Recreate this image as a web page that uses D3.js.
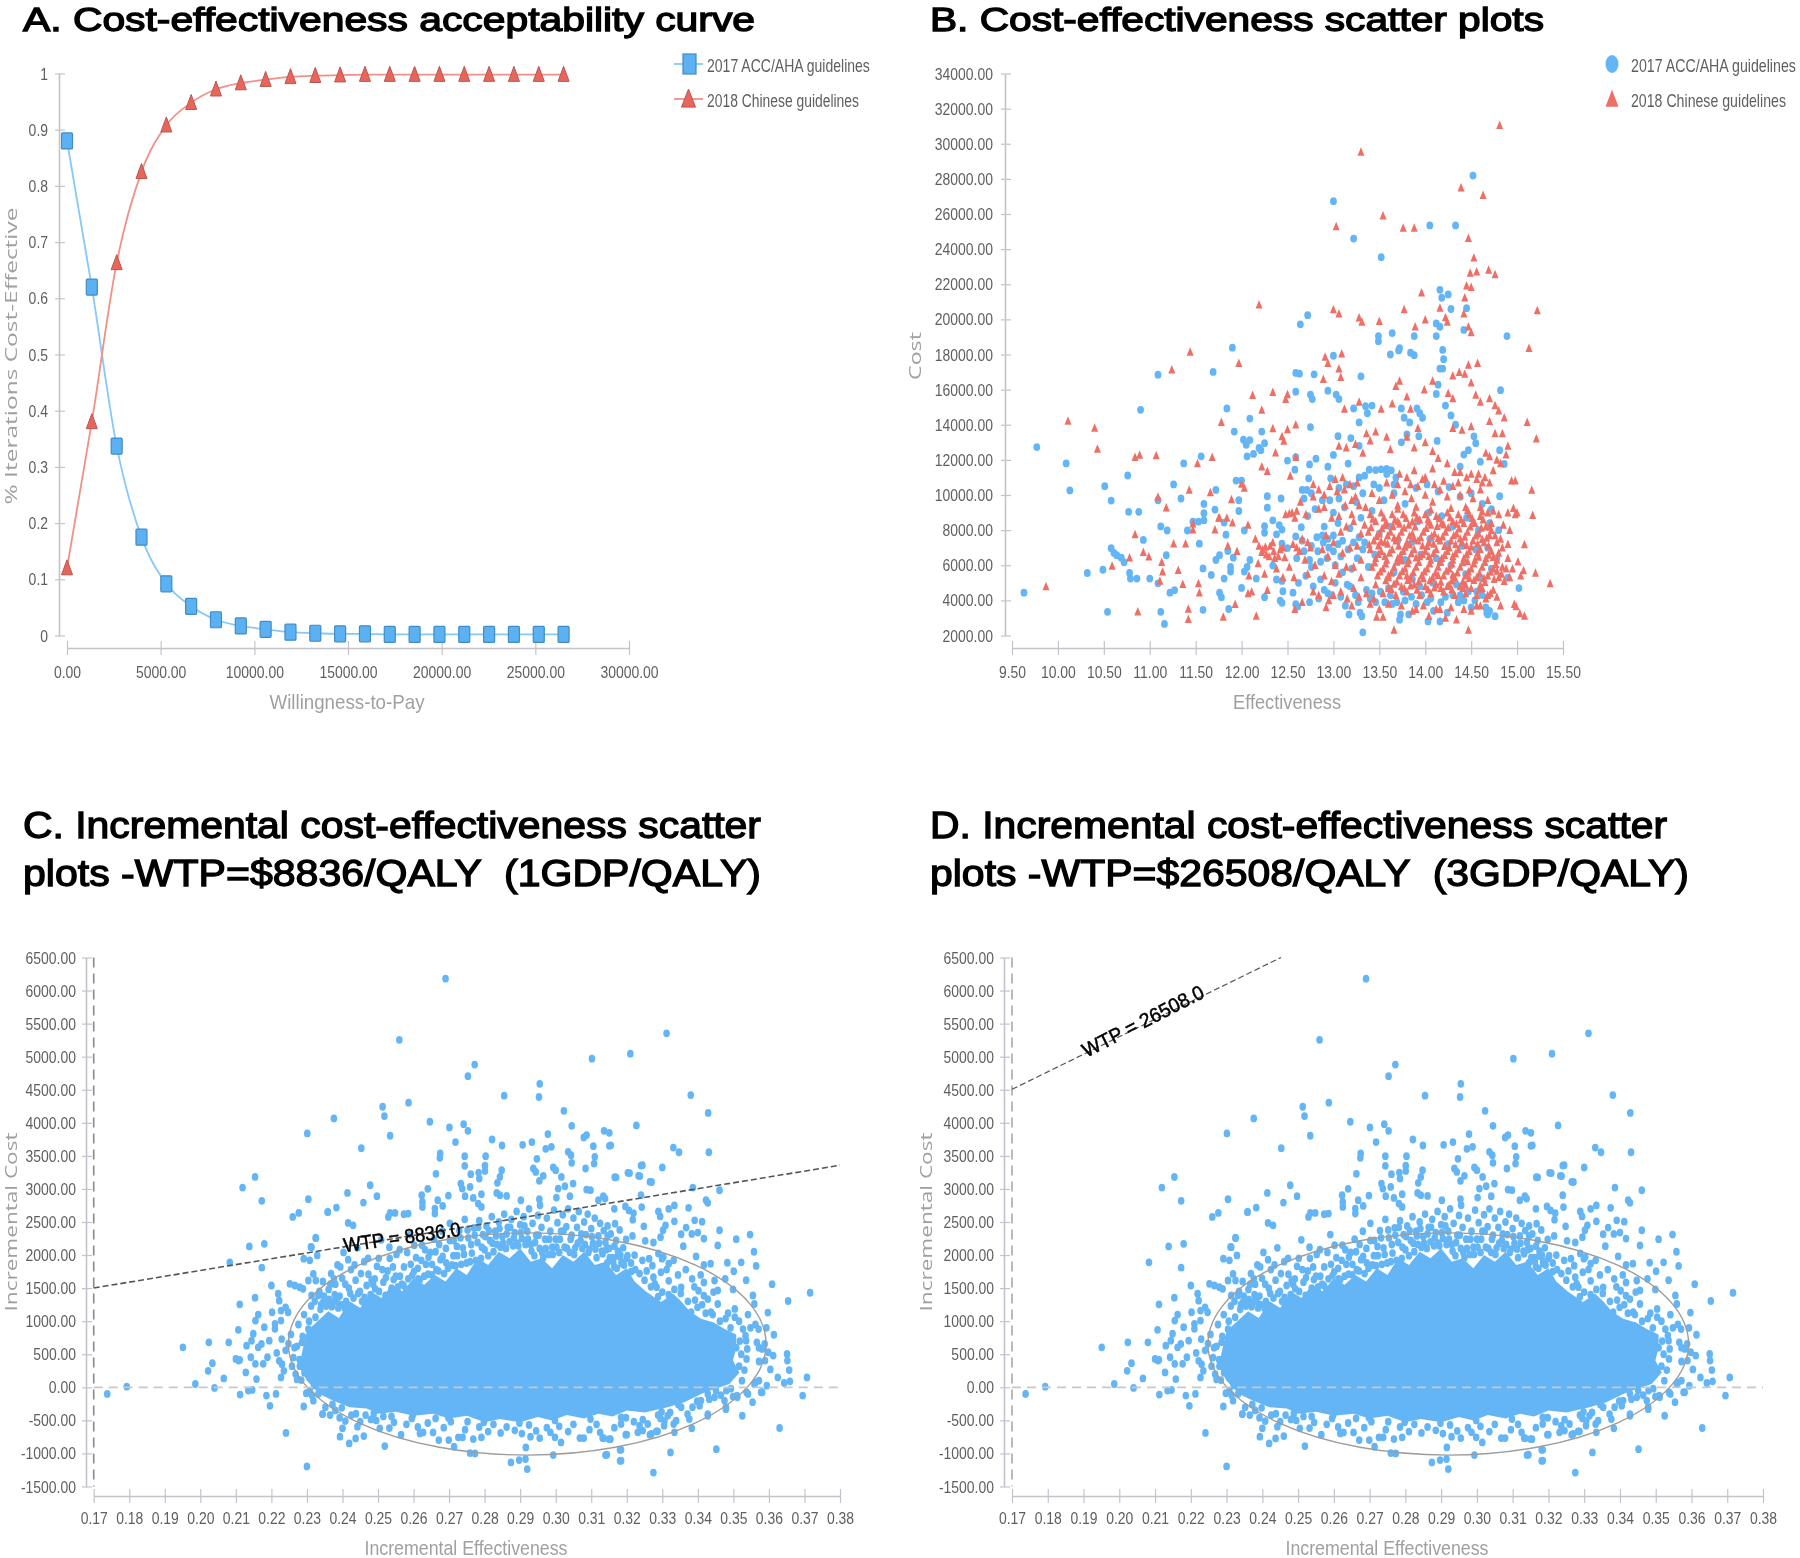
<!DOCTYPE html>
<html><head><meta charset="utf-8">
<script src="https://cdn.jsdelivr.net/npm/d3@7/dist/d3.min.js"></script>
<style>
html,body{margin:0;padding:0;background:#fff}
svg{display:block;filter:blur(.45px)}
text{white-space:pre}
.tick text,.leg{font-family:"Liberation Sans",sans-serif;fill:#5f5f5f}
</style></head><body><div id="c"></div>
<script>
// ---- Panel A
const wtpValues=[0,1325,2651,3976,5302,6627,7952,9278,10603,11929,13254,14579,15905,17230,18556,19881,21206,22532,23857,25183,26508];
const acceptAcc=[.88,.62,.337,.175,.092,.052,.028,.017,.011,.006,.004,.003,.003,.002,.002,.002,.002,.002,.002,.002,.002];
const acceptChinese=[.12,.38,.663,.825,.908,.948,.972,.983,.989,.994,.996,.997,.998,.998,.998,.998,.998,.998,.998,.998,.998];
const ticksA_x=[0,5000,10000,15000,20000,25000,30000];
const ticksA_y=[0,.1,.2,.3,.4,.5,.6,.7,.8,.9,1];
// ---- Panel B (effectiveness, cost pairs)
const ticksB_x=[9.5,10,10.5,11,11.5,12,12.5,13,13.5,14,14.5,15,15.5];
const ticksB_y=[2000,4000,6000,8000,10000,12000,14000,16000,18000,20000,22000,24000,26000,28000,30000,32000,34000];
const accScatter=[9.63,4440,9.77,12730,10.09,11800,10.13,10260,10.32,5560,10.49,5745,10.51,10500,10.58,9680,10.54,3350,10.58,6970,10.61,6700,10.64,6570,10.69,6430,10.72,6170,10.76,11110,10.77,9040,10.88,9040,10.78,5560,10.79,5240,10.86,5240,10.9,14850,10.93,7440,11,5240,11.09,16850,11.09,9700,11.12,8210,11.19,7980,11.18,6570,11.16,2660,11.12,3350,11.09,4970,11.22,4440,11.27,4580,11.26,10600,11.34,9800,11.37,11800,11.41,7980,11.47,8480,11.53,8480,11.59,8560,11.59,9490,11.59,8960,11.56,12200,11.54,7230,11.58,5820,11.58,3460,11.67,5450,11.69,17010,11.72,6300,11.72,10290,11.71,9170,11.76,6570,11.76,4440,11.78,4180,11.81,8430,11.81,5240,11.88,5640,11.84,14930,11.86,3510,11.9,18390,11.92,13610,11.94,10820,11.97,9090,11.97,9700,12,10820,11.83,7740,11.85,6810,11.91,6430,11.88,5900,12.02,13150,12.03,7980,12.09,6300,12.06,5900,12.03,5640,12,4710,12.09,14350,12.05,12860,12.09,13130,12.06,12200,12.13,12340,12.22,13610,12.19,12680,12.25,12950,12.21,12550,12.16,5240,12.25,4180,12.25,8220,12.28,9280,12.28,9930,12.25,7850,12.34,8560,12.41,8290,12.44,8030,12.38,7760,12.44,7230,12.43,9800,12.34,5980,12.38,5190,12.44,5110,12.42,3990,12.45,4520,12.44,3860,12.5,6980,12.59,7640,12.65,8170,12.59,12150,12.5,11960,12.58,11440,12.59,16950,12.59,15880,12.63,16910,12.64,19720,12.72,20240,12.66,10290,12.71,10290,12.73,10950,12.75,13870,12.77,15460,12.79,16870,12.75,15720,12.74,11740,12.81,12070,12.56,4440,12.59,3780,12.61,3640,12.94,15940,13,17930,12.97,10950,13,12280,12.94,11610,13.03,15720,13.06,15460,13.22,14930,13.28,14130,13.35,15060,13.42,15090,13.37,14660,13.05,13350,13.19,13240,13.28,12800,13.16,11790,13.06,10400,13.22,24600,13.52,23540,13,26730,14.52,28190,14.05,25350,14.33,25350,14.16,21680,14.18,21230,14.25,21420,14.28,20590,14.45,20640,14.89,19050,14.42,19400,14.12,19770,14.16,19580,14.12,19050,14.19,18260,14.2,17730,14.16,17200,14.19,17200,14.14,16280,14.12,15750,14.22,15090,13.88,19050,13.84,18100,13.88,17960,13.72,18360,13.71,18230,13.62,18000,13.64,19220,13.49,19050,13.49,18760,13.3,16760,13.74,14930,13.77,14400,13.83,14130,13.91,14930,13.94,14660,13.97,14400,13.8,13450,13.74,13000,13.93,13350,14.13,13080,14.28,14530,14.33,14000,14.53,13340,14.55,12950,14.47,12550,14.82,15970,14.81,12550,14.86,11770,14.81,9930,14.38,11620,14.6,11900,14.42,12300,
13.39,11440,13.46,11420,13.52,11460,13.58,11490,13.63,11400,13.68,11000,13.5,10400,13.32,10100,13.25,9600,13.12,9300,13,9000,12.88,9700,12.8,9200,12.72,8800,12.66,7400,12.9,8200,13.05,8400,13.18,8100,13.3,8700,13.42,9100,13.55,9700,13.66,10100,13.78,9500,13.9,10400,14.02,10600,14.14,10200,14.26,10450,14.38,9900,14.5,10100,14.62,9500,14.7,8400,14.04,9000,13.92,8500,14.18,8800,14.3,8200,14.45,8700,14.58,8000,12.76,7100,12.83,6800,12.89,7300,12.95,7000,13,6800,12.86,6200,12.93,6400,13.02,6000,13.08,6500,12.76,5900,12.7,5400,12.62,5000,12.78,4800,12.86,5200,12.94,4400,13.02,5000,13.1,5600,13.15,4900,13.2,5800,13.26,6400,13.32,6900,13.38,5900,13.45,6600,13.13,3700,13.17,3200,13.27,3900,13.31,3100,13.32,2180,13.29,3300,13.4,4100,13.46,3900,13.51,4500,13.56,3900,13.6,4700,13.64,3800,13.69,3900,13.73,3200,13.72,2900,13.78,4000,13.82,3200,13.85,4200,13.9,3800,13.96,4300,14.03,2800,14.02,3900,14.09,3400,14.16,2800,14.17,3900,14.24,3300,14.3,4300,14.36,3900,14.42,4000,14.47,4500,14.5,3600,14.54,4000,14.7,3400,14.67,3300,14.68,3200,14.76,3100,14.9,5300,15.02,4700,14.62,4300,14.34,4900,14.08,5000,13.86,5200,13.66,5600,13.78,6300,13.95,6600,14.12,6400,14.28,6000,14.44,5500,14.6,5300,14.72,5800,13.5,7800,13.62,8200,13.7,7400,13.85,7300,14.05,7500,14.25,7200,14.4,7100,14.55,6900,14.68,7000,14.78,6400,14.8,8000,14.72,9200,
12.6,6400,12.68,6800,12.74,6300,12.82,7600,12.88,7700,12.94,7500,13.0,7700,13.05,7200,13.1,7400,13.16,6900,13.22,7300,13.28,7600,13.34,7300,12.68,9800,12.76,10100,12.96,9700,13.06,9800,13.14,10600,13.22,10500,13.28,11000,13.34,11100,13.44,10600,13.58,11200,13.66,10600,13.42,4400,13.36,4600,13.24,4300,13.18,4800,13.08,4200,12.98,4300,12.9,4600,12.84,4100,12.74,3900,13.62,4300,13.76,4500,13.94,4800,14.06,4100,14.22,4200,14.38,4300,14.56,4500,14.66,3600];
const chineseScatter=[9.87,4790,10.11,14220,10.4,13820,10.43,12620,10.59,5960,10.84,12150,10.89,12280,10.84,7760,10.87,3350,10.78,6430,10.93,6750,10.99,6490,11.07,12250,11.09,9890,11.13,6170,11.14,5640,11.11,5110,11.18,9280,11.24,17140,11.31,5720,11.26,7230,11.44,18150,11.43,10290,11.36,4920,11.39,7230,11.42,3510,11.42,2930,11.47,8370,11.47,8030,11.52,11800,11.68,12150,11.53,4970,11.54,4440,11.71,8030,11.78,14140,11.66,10150,11.75,8690,11.8,3060,11.84,8690,11.9,8430,11.89,9750,11.93,3780,11.97,17510,12,10630,12.12,15680,12.07,8290,12.07,4390,12.11,4500,12.16,3120,12.19,20830,12.22,14850,12.22,11610,12.28,11350,12.28,4580,12.34,15860,12.34,13790,12.37,12410,12.44,13340,12.46,13080,12.48,15460,12.5,15730,12.5,13740,12.59,14000,12.59,12150,12.53,11080,13,20560,13.06,20330,13.03,25290,13.09,18040,12.91,17860,12.94,17510,13.06,17190,13.08,16710,12.89,16600,13.28,20100,13.31,19850,13.3,29540,13.5,19900,13.54,25900,13.76,25210,13.88,25210,14.81,31060,14.39,27500,14.63,27070,14.47,24630,14.53,23510,14.49,22640,14.56,22720,14.69,22820,14.76,22560,14.45,21920,14.5,21840,14.43,21230,13.96,21520,13.77,20560,14,19980,13.89,19580,14.16,20650,14.22,20110,14.24,19850,14.42,20330,14.47,19580,14.5,19260,15.22,20510,15.13,18360,15.11,14140,15.21,13210,15.16,10290,15.17,8850,15.36,4970,15.2,5560,15.08,3120,15.03,3250,14.97,3780,14.99,3650,14.82,3700,14.94,10820,14.98,10820,15,9000,14.98,8900,14.9,9000,14.96,9250,15.08,7180,15.01,6200,15.07,5700,15.04,5400,14.47,2320,13.66,2320,13.47,3060,13.54,3060,
11.76,8700,11.85,7100,11.95,6800,12.03,10400,12.15,7500,12.19,7100,12.23,6900,12.27,6600,12.31,7100,12.35,6800,12.4,6500,12.45,7000,12.18,6100,12.25,5500,12.08,5400,12.38,5800,12.45,5300,12.52,5900,12.57,5300,12.48,8900,12.55,9000,12.6,9100,12.64,9600,12.7,8900,12.56,7200,12.63,6800,12.69,6300,12.75,7000,12.8,6000,12.72,5500,12.78,4500,12.84,4300,12.66,3900,12.58,3500,12.78,10600,12.84,10300,12.9,10000,12.96,10500,12.9,9300,13.02,10900,13.1,11000,13.18,10600,13.24,9900,12.98,8700,13.06,8800,13.13,9400,13.2,9700,12.92,7700,13,7300,13.08,7900,13.14,8200,13.22,8500,12.88,6900,12.94,6500,13.02,6000,13.1,6700,13.18,7000,12.9,5400,12.98,5100,13.06,5500,13.14,5900,12.95,4000,12.92,3600,13,4300,13.08,4500,13.15,4100,13.22,4700,13.06,12800,13.14,12700,13.24,12900,13.32,12400,13.4,13100,13.12,14900,13.28,15300,13.36,13500,13.52,14900,13.46,13600,13.58,13300,13.62,12600,13.68,16200,13.72,16500,13.8,15600,13.64,15200,13.84,14900,13.92,13800,13.99,16000,14.08,16500,14.25,15800,14.3,15500,14.3,16800,14.37,17000,14.43,16900,14.47,17400,14.57,17500,14.5,16400,14.55,15700,14.6,15300,14.7,15500,14.76,15100,14.8,14800,14.86,14400,14.84,13500,14.76,13500,14.7,14200,14.82,11800,14.9,12800,14.88,12300,14.78,12000,14.66,12400,14.7,12200,14.74,11400,13.72,11200,13.8,11000,13.88,11400,14,11000,14.08,11500,14.14,12100,14.24,11800,14.32,11300,14.08,12500,14,13000,13.88,12700,13.8,13300,14.3,13800,14.4,13700,14.5,13900,14.5,11200,14.58,11200,14.65,11000,14.6,10300,14.45,11000,14.38,11300,13.35,9300,13.42,10100,13.5,9700,13.58,10700,13.64,10000,13.7,9400,13.78,10200,13.85,9800,13.92,10500,14,10000,14.08,9600,14.16,10300,14.24,9900,14.3,10500,14.38,10000,14.44,9300,14.52,9800,14.6,9300,14.68,9700,14.74,9100,14.8,8900,14.85,8300,14.92,8000,14.72,8400,
13.4,8900,13.46,8500,13.52,9000,13.58,8400,13.64,8900,13.7,8500,13.76,8900,13.82,8300,13.88,9000,13.94,8600,14,8900,14.06,8300,14.12,8800,14.18,8400,14.24,9000,14.3,8500,14.36,8900,14.42,8400,14.48,8900,14.54,8400,14.6,8800,14.66,8200,
13.38,7900,13.44,7400,13.5,7800,13.56,7300,13.62,7900,13.68,7400,13.74,7900,13.8,7300,13.86,7800,13.92,7400,13.98,7900,14.04,7300,14.1,7800,14.16,7400,14.22,7900,14.28,7400,14.34,7800,14.4,7300,14.46,7900,14.52,7400,14.58,7800,14.64,7300,14.7,7700,14.78,7300,14.84,7000,14.9,7200,
13.4,6900,13.46,6400,13.52,6800,13.58,6300,13.64,6900,13.7,6400,13.76,6800,13.82,6300,13.88,6900,13.94,6500,14,6800,14.06,6300,14.12,6900,14.18,6400,14.24,6800,14.3,6300,14.36,6900,14.42,6400,14.48,6800,14.54,6300,14.6,6900,14.66,6400,14.72,6800,14.78,6300,14.84,5900,14.9,6400,14.95,5800,
13.42,5900,13.48,5400,13.54,5800,13.6,5300,13.66,5900,13.72,5400,13.78,5800,13.84,5300,13.9,5900,13.96,5400,14.02,5800,14.08,5300,14.14,5900,14.2,5400,14.26,5800,14.32,5300,14.38,5900,14.44,5400,14.5,5800,14.56,5300,14.62,5900,14.68,5400,14.74,5800,14.8,5300,14.86,5100,14.92,5300,
13.46,4900,13.54,4400,13.6,4700,13.68,4300,13.74,4800,13.8,4500,13.88,4900,13.94,4300,14,4800,14.06,4400,14.12,4900,14.2,4500,14.26,4900,14.32,4300,14.38,4800,14.44,4400,14.5,4700,14.56,4300,14.62,4700,14.68,4300,14.74,4600,14.78,4200,
13.4,3800,13.5,3500,13.74,3700,13.86,3400,13.98,3700,14.04,3100,14.16,3500,14.22,3000,14.28,3600,14.34,2900,14.5,3400,14.6,3700,
13.43,8640,13.55,8710,13.67,8590,13.79,8680,13.91,8730,14.03,8610,14.15,8660,14.27,8720,14.39,8600,14.51,8680,14.63,8590,
13.41,8160,13.53,8090,13.65,8210,13.77,8120,13.89,8190,14.01,8110,14.13,8230,14.25,8140,14.37,8080,14.49,8190,14.61,8130,14.72,8000,
13.47,7640,13.59,7690,13.71,7610,13.83,7700,13.95,7590,14.07,7670,14.19,7630,14.31,7700,14.43,7610,14.55,7680,14.67,7560,14.76,7700,
13.39,7180,13.49,7120,13.59,7220,13.71,7100,13.83,7170,13.97,7110,14.09,7210,14.21,7090,14.33,7190,14.45,7130,14.57,7220,14.69,7100,14.82,7500,
13.49,6630,13.61,6700,13.73,6590,13.85,6670,13.97,6610,14.09,6690,14.21,6580,14.33,6680,14.45,6620,14.57,6700,14.69,6590,14.8,6700,
13.45,6150,13.57,6090,13.69,6190,13.81,6110,13.93,6170,14.05,6090,14.17,6180,14.29,6100,14.41,6160,14.53,6090,14.65,6180,14.77,6050,14.88,5800,
13.51,5640,13.63,5570,13.75,5660,13.87,5590,13.99,5640,14.11,5560,14.23,5670,14.35,5580,14.47,5630,14.59,5560,14.71,5620,14.83,5500,
13.57,5130,13.69,5060,13.81,5150,13.93,5080,14.05,5140,14.17,5050,14.29,5120,14.41,5080,14.53,5150,14.65,5040,14.75,5200,
13.63,4640,13.77,4700,13.91,4600,14.03,4620,14.17,4700,14.29,4620,14.41,4700,14.59,4650,14.71,4400,14.66,4100,
12.22,6750,12.26,7050,12.3,6500,12.34,7300,12.36,6400,12.42,6900,12.47,6450,12.6,7000,12.66,7500,12.72,7300,12.52,8950,12.58,8700,12.78,9900,12.84,9200,13.04,10200,13.12,10300,13.26,10700,13.2,8900,13.28,9400,13.34,8300,13.3,7800,13.26,7100,13.3,6300,13.22,5900,13.3,5300,13.36,4400,13.28,4200,13.2,3700,13.44,4100,13.6,3800,13.9,3500,14.12,3500,14.42,3500,14.56,3700,14.1,10600,13.97,10900,13.84,10600,13.7,10600,14.2,10800,14.36,10700,14.56,10900,14.48,10300,14.7,10700,14.62,10700,14.68,9000,
13.52,7350,13.66,7550,13.78,7050,13.88,7520,14.02,7080,14.14,7540,14.26,7020,14.38,7520,14.5,7060,14.62,7480,13.56,6520,13.74,6260,13.9,6430,14.04,6520,14.16,6240,14.3,6510,14.46,6230,14.58,6470,14.74,6460,13.6,5440,13.8,5410,13.98,5250,14.14,5430,14.3,5460,14.48,5270,14.64,5250,14.78,5680,13.56,8280,13.72,8360,13.86,8480,14.04,8470,14.2,8310,14.34,8360,14.52,8440,14.7,8200,13.66,4940,13.84,4830,14.1,4730,14.24,4810,14.44,4880,14.6,4880,13.7,9200,13.9,9320,14.06,9160,14.28,9250,14.46,9140,14.62,9060];
// ---- Panels C and D (incremental effectiveness, incremental cost pairs)
const ticksC_x=[.17,.18,.19,.2,.21,.22,.23,.24,.25,.26,.27,.28,.29,.3,.31,.32,.33,.34,.35,.36,.37,.38];
const ticksC_y=[-1500,-1000,-500,0,500,1000,1500,2000,2500,3000,3500,4000,4500,5000,5500,6000,6500];
const wtpC=8836, wtpD=26508;
const ellipseMean=[.292,655], ellipseRadii=[.0672,1680];
// Outline of the area where the plotted dots merge into one solid colour in the picture.
const incSolidArea=[.2285,500,.23,850,.233,1000,.236,1150,.239,1050,.242,1300,.245,1200,.248,1450,.251,1350,.254,1550,.257,1450,.26,1650,.263,1550,.266,1700,.269,1600,.272,1800,.275,1700,.278,1950,.281,1850,.284,2050,.287,1950,.29,2100,.293,1900,.296,1950,.299,1800,.302,2000,.305,1900,.308,2050,.311,1850,.314,1900,.317,1700,.32,1800,.3222,1600,.3254,1450,.3297,1290,.333,1420,.3353,1300,.3377,1150,.3409,1035,.3445,980,.3475,880,.3508,800,.3508,600,.3499,405,.3517,225,.3489,50,.3447,-25,.3409,-100,.3362,-225,.3315,-300,.325,-380,.32,-350,.316,-440,.312,-400,.308,-470,.3031,-420,.299,-500,.295,-450,.29,-530,.2843,-480,.28,-530,.275,-430,.27,-470,.2655,-400,.26,-430,.255,-370,.25,-400,.2468,-320,.242,-300,.2373,-200,.2335,-100,.23,100,.228,300];
const incPoints=[.269,6180,.256,5255,.3312,5354,.3102,4970,.321,5045,.2772,4880,.2753,4705,.2955,4590,.2953,4390,.2855,4410,.338,4420,.3429,4150,.2513,4243,.2518,4102,.2586,4304,.2646,4016,.2376,4066,.2301,3839,.2534,3804,.2701,3930,.2741,3980,.2753,3879,.3045,3955,.3227,3960,.3136,3879,.3151,3849,.3087,3814,.3079,3778,.2821,3748,.2849,3657,.2718,3708,.2933,3708,.2907,3667,.2988,3637,.2972,3607,.2978,3829,.3106,3647,.3151,3652,.3023,4182,.3331,3625,.3347,3555,.3431,3555,.2453,3617,.2675,3536,.2674,3470,.2744,3496,.2803,3496,.2744,3349,.2801,3354,.2801,3273,.2783,3248,.2785,3157,.2761,3223,.2663,3228,.2947,3455,.2937,3309,.2944,3258,.2965,3198,.2954,3122,.3035,3561,.3043,3511,.3045,3395,.2993,3324,.3,3283,.3016,3182,.311,3486,.3108,3384,.3084,3309,.3166,3177,.3203,3243,.3233,3198,.324,3354,.3265,3107,.2848,3283,.2843,3182,.2836,3092,.2733,3081,.2737,3006,.2759,3031,.264,3001,.2478,3056,.2414,2940,.2497,2890,.2459,2794,.2304,2844,.2383,2718,.2359,2652,.226,2577,.2277,2637,.2623,2905,.2625,2804,.2625,2728,.266,2703,.266,2627,.2668,2829,.2682,2743,.2698,2900,.2745,2890,.2768,2864,.2782,2778,.2791,2920,.2791,2728,.2834,2940,.2843,2905,.2862,2895,.2902,2829,.2954,2844,.2956,2753,.3002,2870,.3007,3006,.3026,3041,.3049,3081,.304,2890,.3087,2991,.3098,2981,.3134,2890,.312,2829,.2529,2576,.2534,2637,.2548,2637,.2573,2617,.2585,2627,.2416,2486,.243,2450,.2325,2263,.2311,2122,
.1738,-100,.1793,10,.1951,605,.1986,50,.2024,680,.2034,365,.2022,250,.204,-10,.2066,135,.208,680,.2083,1890,.2107,870,.2111,1255,.2119,3020,.2112,-110,.21,430,.2108,405,.2111,415,.2128,225,.213,630,.2138,2130,.2135,-50,.2146,-40,.2142,455,.2144,705,.2149,810,.2154,3182,.2154,1355,.2155,1010,.2163,1100,.2155,355,.2158,125,.2163,605,.2172,655,.2173,2820,.2173,1810,.218,2170,.218,910,.2177,355,.2186,-125,.2196,-280,.2189,455,.2194,705,.22,1540,.2202,1135,.221,960,.221,885,.2213,-100,.2219,1415,.2222,1310,.2227,1010,.2227,1160,.2227,150,.2229,730,.2241,-690,.224,1210,.2247,1135,.2215,520,.2222,400,.223,350,.2235,250,.224,560,.2248,660,.2252,1565,.2266,1540,.228,1515,.2289,1490,.2291,-290,.23,-1197,.2325,2255,.2313,2120,.2291,1945,.2308,1920,.2329,1995,.2304,1615,.2318,1715,.2325,1615,.2358,2650,.2344,-405,.2313,1390,.2332,1390,.2255,800,.2262,450,.2268,200,.2272,620,.2276,950,.228,320,.2284,110,.2288,770,.2292,1100,.2296,500,.23,250,.2304,880,.2308,-50,.2312,1230,.2316,620,.232,30,.2324,1060,.2328,350,.2332,-100,.2336,780,.2318,-202,.2344,-404,.234,1250,.2258,320,.2265,600,.2272,120,.2279,420,.2286,680,.2293,220,.2298,-90,.2306,1000,.2314,-120,.2322,1300,.2338,1180,.2346,1290,.2354,1230,.2362,1330,.237,1220,.2378,1400,.2388,1200,.2396,1250,.2406,1200,
.3155,3660,.3244,3360,.33,3325,.3208,3240,.3237,3195,.317,3175,.327,3105,.3386,3020,.3461,2980,.324,2905,.3139,2855,.3374,2715,.3423,2830,.3428,2790,.3334,2750,.3318,2700,.3242,2725,.3289,2660,.3294,2585,.3196,2735,.3206,2675,.3219,2635,.3217,2535,.3165,2700,.3334,2510,.3391,2525,.3412,2505,.3248,2435,.3167,2475,.3146,2440,.3309,2450,.3302,2375,.3295,2270,.3367,2415,.3383,2320,.3353,2315,.34,2340,.3417,2250,.3461,2375,.3508,2240,.3547,2310,.3558,2050,.3564,1835,.3483,1885,.3522,1890,.3501,1755,.3536,1620,.3477,1640,.3609,1560,.3654,1305,.3716,1430,.3555,1390,.3559,1260,.3597,1130,.3541,1100,.3593,900,.3614,795,.3588,655,.3612,480,.3651,505,.3652,405,.3657,260,.3604,270,.3625,150,.3643,65,.3659,90,.3707,150,.3695,-125,.363,-615,.3525,-430,.3554,-225,.3452,-935,.3323,-985,.3275,-1290,.3184,-1110,.3184,-945,.3144,-1020,.3154,-785,.3135,-770,.3383,-620,.3334,-680,.3287,-665,.3269,-705,.32,-715,.3479,-300,.3428,-430,.3499,-140,.351,-125,.3537,-75,.3559,50,.3578,-75,.3594,25,.3456,2145,.3359,2135,.3395,1980,.3417,1850,.3436,1870,.3447,1615,.3499,1480,.3456,1465,.3444,1440,.3417,1385,.3428,1335,.3408,1700,.3384,1640,.3417,1585,.3318,1610,.3353,1510,.3275,1665,.3279,1565,.3284,1515,.3303,1970,.3318,1870,.3332,1920,.3289,2025,.3299,1945,.3222,2000,.3244,1920,.3263,1945,.3174,1985,.3165,2135,.3146,2290,.3198,2235,.3216,2290,.3252,2215,.3275,2190,.3504,1185,.3504,1060,.3485,1120,.3456,1260,.3437,1135,.3399,1210,.3381,1135,.3548,900,.3562,950,.3571,880,.3534,780,.3536,705,.3566,680,.3572,600,.3581,580,.3508,600,.3539,580,.3537,430,.3572,390,.3589,405,.3598,530,.3562,75,.3572,100,.3581,-75,.3541,-100,.3511,-150,.3475,-200,.3479,-330,.348,-50,.3451,-50,.3447,-150,.3428,-100,.3409,-200,.3428,-405,.3371,-405,.3376,-480,.3353,-300,.3339,-505,.3332,-555,.3306,-510,.3259,-555,.3245,-655,.3231,-680,.3236,-580,.3184,-555,.3184,-455,.3156,-300,.3288,-420,.3322,-380,.3345,-260,.3385,-300,.3405,-280,.3432,-180,.3465,-120,.3493,-20,.3524,100,.3516,320,.3531,260,.3522,500,.3518,700,.3527,880,.3516,1000,.3492,900,.3478,1040,.3462,1000,.3442,1100,.3422,1120,.3412,1250,.3392,1320,.3372,1300,.3352,1420,.3334,1480,.3318,1400,.33,1440,.3288,1370,.3268,1520,.325,1620,.3236,1720,.3224,1780,.3212,1880,.32,1950,.3186,1870,.3256,1760,.3272,1840,.3296,1740,.3312,1780,.3344,1700,.3366,1780,.339,1520,.3402,1460,
.2335,1450,.2345,1600,.2352,1320,.2361,1480,.2368,1720,.2374,1290,.238,1560,.2386,1850,.2392,1380,.2399,1650,.2403,2040,.241,1300,.2418,1500,.2424,1780,.2431,1350,.2437,1620,.2442,2110,.2449,1450,.2455,1300,.2461,1900,.2468,1540,.2473,1710,.2479,1400,.2486,1560,.2491,1640,.2497,1830,.2503,1450,.2509,2230,.2515,1590,.2521,1390,.2527,1760,.2533,1950,.2538,1500,.2544,1630,.255,1680,.2556,1520,.2561,2080,.2567,1560,.2573,1820,.2579,1480,.2585,1640,.259,2310,.2596,1690,.2601,1750,.2607,1960,.2613,1640,.2618,1630,.2624,2150,.263,1680,.2635,1860,.2641,1710,.2647,2040,.2652,1700,.2658,2240,.2664,1780,.267,1760,.2676,1930,.2681,2360,.2686,1720,.2691,2100,.2697,1800,.2702,2480,.2708,1850,.2713,2220,.2718,1840,.2723,1990,.2729,2370,.2734,1860,.2739,2110,.2744,2540,.2749,1880,.2754,2260,.2759,1900,.2764,2030,.277,2410,.2775,1920,.278,2190,.2785,2520,.279,1950,.2795,2310,.28,2080,.2805,2440,.281,1990,.2815,2220,.282,2580,.2825,2050,.283,2360,.2835,2160,.284,2500,.2845,2120,.285,2280,.2855,2620,.286,2100,.2865,2420,.287,2200,.2875,2540,.288,2140,.2885,2340,.289,2660,.2895,2140,.29,2460,.2905,2250,.291,2580,.2915,2160,.292,2360,.2925,2700,.293,2160,.2935,2480,.294,1990,.2945,2300,.295,2600,.2955,2100,.296,2420,.2965,1960,.297,2240,.2975,2560,.298,2010,.2985,2360,.299,2120,.2995,2680,.3,2240,.3005,2490,.301,2040,.3015,2360,.302,2610,.3025,2120,.303,2430,.3035,2700,.304,2040,.3045,2300,.305,2560,.3055,2110,.306,2420,.3065,2660,.307,2220,.3075,2100,.308,2500,.3085,2310,.309,2620,.3095,2090,.31,2400,.3105,2180,.311,2560,.3115,1960,.312,2290,.3125,2480,.313,2060,.3135,2370,.314,2190,.3145,1880,.315,2100,.3155,2320,.316,1960,.3165,1820,.317,2220,.3175,2060,.318,2380,.3185,1900,.319,2110,
.2348,1380,.2358,1280,.2366,1560,.2376,1640,.2384,1300,.2394,1820,.2408,1560,.2416,1930,.2422,1420,.2434,1850,.2444,1420,.2452,1720,.2462,1360,.2472,1950,.2482,1620,.2492,1490,.2502,1950,.2512,1780,.2522,1660,.2532,2120,.2542,1820,.2552,2010,.2562,1680,.2572,1540,.2582,2040,.2592,1860,.2602,2150,.2612,1800,.2622,1920,.2632,2080,.2642,1970,.2652,1860,.2662,2050,.2672,2160,.2682,1980,.2692,1880,.2702,2220,.2712,1990,.2722,2130,.2732,2260,.2742,2010,.2752,2380,.2762,2160,.2772,2300,.2782,2420,.2792,2120,.2802,2280,.2812,2370,.2822,2180,.2832,2290,.2842,2400,.2852,2180,.2862,2320,.2872,2420,.2882,2260,.2892,2180,.2902,2340,.2912,2440,.2922,2240,.2932,2060,.2942,2190,.2952,2300,.2962,2040,.2972,2100,.2982,2240,.2992,2010,.3002,2120,.3012,2240,.3022,2360,.3032,2100,.3042,2240,.3052,2010,.3062,2180,.3072,2320,.3082,2160,.3092,2040,.3102,2280,.3112,2090,.3122,2180,.3132,2020,.3142,2080,.3152,1960,.3162,1900,.3172,1800,.3182,2000,.3192,1850,.3202,1990,.3212,1750,
.2392,-460,.24,-620,.2393,-747,.2419,-848,.2437,-773,.246,-737,.2442,-596,.248,-485,.2519,-889,.2532,-616,.2565,-717,.2618,-697,.2627,-682,.2655,-682,.2671,-798,.2699,-798,.2714,-899,.2726,-757,.2738,-757,.2759,-995,.2773,-1000,.2768,-783,.2791,-757,.2874,-1136,.2897,-1101,.2915,-1086,.292,-1237,.2916,-909,.2929,-747,.2955,-768,.2993,-1025,.2998,-757,.3015,-833,.3068,-768,.3079,-768,.3132,-768,.315,-783,.314,-1025,.3181,-944,.3181,-1111,.3197,-717,.3265,-717,.3283,-667,.2365,-420,.238,-350,.2408,-510,.2425,-420,.245,-520,.2465,-420,.2495,-500,.2505,-620,.2515,-440,.2545,-530,.258,-560,.2595,-470,.2612,-600,.264,-540,.2662,-470,.2685,-610,.2705,-520,.2745,-640,.2752,-520,.2785,-600,.281,-670,.2825,-560,.2845,-690,.2862,-600,.2885,-650,.2905,-700,.2925,-570,.2945,-660,.2975,-610,.2985,-680,.301,-590,.3035,-670,.305,-560,.3095,-640,.3115,-560,.3125,-680,.3165,-610,.322,-520,.3245,-490,.3295,-470,.3315,-430,.3305,-580,.2352,-300,.2372,-260,.2398,-310,.2438,-400,.2488,-400,.2538,-440,.2598,-420,.2698,-460,.2798,-530,.2898,-540,.2998,-500,.3098,-480,.3198,-460,.3298,-370,.3398,-210];
// ---- Styling
const C={blue:"#64B5F6",red:"#EE6F66",axis:"#C4C3CB",tick:"#5f5f5f",title:"#a0a0a0"};
const pairs=a=>d3.range(0,a.length,2).map(i=>[a[i],a[i+1]]);
const svg=d3.select("#c").append("svg").attr("width",1800).attr("height",1558);
svg.append("rect").attr("width",1800).attr("height",1558).attr("fill","#fff");

function title(x,y,str,w,size){
  svg.append("text").attr("x",x).attr("y",y).text(str)
   .attr("font-family","'Liberation Sans',Arial,sans-serif").attr("font-size",size).attr("fill","#000")
   .attr("stroke","#000").attr("stroke-width",1.3).attr("textLength",w).attr("lengthAdjust","spacingAndGlyphs");
}
function squeeze(sel,f){sel.each(function(){this.setAttribute("textLength",this.getComputedTextLength()*f);this.setAttribute("lengthAdjust","spacingAndGlyphs");});}
function stretched(x,y,str,w,size,rot){
  svg.append("text").attr("transform",`translate(${x},${y})`+(rot?" rotate(-90)":"")).attr("text-anchor","middle")
   .attr("dominant-baseline","central").text(str).attr("font-family",rot?"'Open Sans',sans-serif":"'Liberation Sans',sans-serif")
   .attr("font-size",size).attr("fill",C.title).attr("textLength",w).attr("lengthAdjust","spacingAndGlyphs");
}
function legendText(x,y,str,w){
  const t=svg.append("text").attr("class","leg").attr("dominant-baseline","central").attr("font-size",18).text(str);
  const k=w/t.node().getComputedTextLength();
  t.attr("transform",`translate(${x},${y}) scale(${k},1)`);
}
function axes(p,xS,yS,xTicks,yTicks,xFmt,yFmt){
  const gx=svg.append("g").attr("transform",`translate(0,${p.axisY})`)
    .call(d3.axisBottom(xS).tickValues(xTicks).tickFormat(xFmt).tickSize(7).tickSizeOuter(0));
  gx.selectAll(".tick line").attr("y1",-7).attr("y2",7);
  gx.selectAll(".tick text").attr("y",p.xLabelDy).attr("dy",0).attr("dominant-baseline","central").attr("font-size",17);
  const gy=svg.append("g").attr("transform",`translate(${p.axisX},0)`)
    .call(d3.axisLeft(yS).tickValues(yTicks).tickFormat(yFmt).tickSize(4).tickSizeOuter(0));
  gy.selectAll(".tick line").attr("x1",-4).attr("x2",p.tickRight);
  gy.selectAll(".tick text").attr("x",-p.yLabelGap).attr("dy",0).attr("dominant-baseline","central").attr("font-size",17);
  [gx,gy].forEach(g=>{g.attr("font-family",null).attr("font-size",null);
    g.select(".domain").attr("stroke",C.axis).attr("stroke-width",1.6);
    g.selectAll(".tick line").attr("stroke",C.axis).attr("stroke-width",1.2);
    squeeze(g.selectAll(".tick text"),.82);});
}
function tri(w,h){return `M0,${-h*.55}L${w/2},${h*.45}L${-w/2},${h*.45}Z`;}

// ===== Panel A
title(23,30.5,"A. Cost-effectiveness acceptability curve",732,33);
{
 const x=d3.scaleLinear().domain([0,30000]).range([67,629]);
 const y=d3.scaleLinear().domain([0,1]).range([635.5,73.5]);
 axes({axisY:648,axisX:59,xLabelDy:24,yLabelGap:11,tickRight:6},x,y,ticksA_x,ticksA_y,d=>d.toFixed(2),d=>String(d));
 const line=d3.line().x((d,i)=>x(wtpValues[i])).y(d=>y(d)).curve(d3.curveMonotoneX);
 svg.append("path").attr("d",line(acceptAcc)).attr("fill","none").attr("stroke","#86C8F7").attr("stroke-width",1.8);
 svg.append("path").attr("d",line(acceptChinese)).attr("fill","none").attr("stroke","#F09088").attr("stroke-width",1.8);
 svg.selectAll(".sq").data(acceptAcc).join("rect").attr("x",(d,i)=>x(wtpValues[i])-5.5).attr("y",d=>y(d)-8).attr("width",11).attr("height",16).attr("rx",1)
   .attr("fill","#5CB1F2").attr("stroke","#3F8CC6").attr("stroke-width",1.2);
 svg.selectAll(".tr").data(acceptChinese).join("path").attr("d",tri(11,15)).attr("transform",(d,i)=>`translate(${x(wtpValues[i])},${y(d)})`)
   .attr("fill","#E8655C").attr("stroke","#B9564F").attr("stroke-width",1);
 stretched(11,356,"% Iterations Cost-Effective",297,16,true);
 stretched(347,701,"Willingness-to-Pay",155,21,false);
 [["2017 ACC/AHA guidelines",64],["2018 Chinese guidelines",99]].forEach((l,i)=>{
  svg.append("line").attr("x1",674).attr("x2",703).attr("y1",l[1]).attr("y2",l[1]).attr("stroke",i?"#F09088":"#86C8F7").attr("stroke-width",1.8);
  if(i)svg.append("path").attr("d",tri(14,18)).attr("transform",`translate(688.5,${l[1]})`).attr("fill","#E8655C").attr("stroke","#B9564F");
  else svg.append("rect").attr("x",683).attr("y",l[1]-10).attr("width",13).attr("height",20).attr("fill","#5CB1F2").attr("stroke","#3F8CC6").attr("stroke-width",1.2);
  legendText(707,l[1]+1,l[0],i?152:163);
 });
}
// ===== Panel B
title(930,30.5,"B. Cost-effectiveness scatter plots",614,33);
{
 const x=d3.scaleLinear().domain([9.5,15.5]).range([1012,1563]);
 const y=d3.scaleLinear().domain([2000,34000]).range([635.5,73.5]);
 axes({axisY:648,axisX:1005,xLabelDy:24,yLabelGap:12,tickRight:6},x,y,ticksB_x,ticksB_y,d=>d.toFixed(2),d=>d.toFixed(2));
 svg.selectAll(".b").data(pairs(accScatter)).join("ellipse").attr("cx",d=>x(d[0])).attr("cy",d=>y(d[1])).attr("rx",3.4).attr("ry",3.9).attr("fill",C.blue);
 svg.selectAll(".r").data(pairs(chineseScatter)).join("path").attr("d",tri(7,8.5)).attr("transform",d=>`translate(${x(d[0])},${y(d[1])})`).attr("fill",C.red);
 stretched(914,356,"Cost",48,17,true);
 stretched(1287,701,"Effectiveness",108,21,false);
 [["2017 ACC/AHA guidelines",64],["2018 Chinese guidelines",99]].forEach((l,i)=>{
  if(i)svg.append("path").attr("d",tri(13,17)).attr("transform",`translate(1612,${l[1]})`).attr("fill",C.red);
  else svg.append("ellipse").attr("cx",1612).attr("cy",l[1]).attr("rx",6.5).attr("ry",9).attr("fill",C.blue);
  legendText(1631,l[1]+1,l[0],i?155:165);
 });
}
// ===== Panels C, D
function incPanel(o){
 title(o.tx,838,o.t1,o.w1,37);
 title(o.tx,886,o.t2,o.w2,37);
 const x=d3.scaleLinear().domain([.17,.38]).range(o.xr);
 const y=d3.scaleLinear().domain([-1500,6500]).range([1486.5,957.5]);
 axes({axisY:1496,axisX:o.axisX,xLabelDy:22,yLabelGap:10,tickRight:6},x,y,ticksC_x,ticksC_y,d=>d.toFixed(2),d=>d.toFixed(2));
 const area=d3.line().x(d=>x(d[0])).y(d=>y(d[1])).curve(d3.curveLinearClosed);
 svg.append("path").attr("d",area(pairs(incSolidArea))).attr("fill",C.blue);
 svg.append("g").selectAll("ellipse").data(pairs(incPoints)).join("ellipse").attr("cx",d=>x(d[0])).attr("cy",d=>y(d[1])).attr("rx",3.3).attr("ry",3.9).attr("fill",C.blue);
 svg.append("ellipse").attr("cx",x(ellipseMean[0])).attr("cy",y(ellipseMean[1]))
  .attr("rx",x(ellipseMean[0]+ellipseRadii[0])-x(ellipseMean[0])).attr("ry",y(ellipseMean[1]-ellipseRadii[1])-y(ellipseMean[1]))
  .attr("fill","none").attr("stroke","#9d9d9d").attr("stroke-width",1.4);
 svg.append("line").attr("x1",x(.17)).attr("x2",x(.38)).attr("y1",y(0)).attr("y2",y(0)).attr("stroke","#c9c7c7").attr("stroke-width",1.8).attr("stroke-dasharray","9,6");
 svg.append("line").attr("x1",x(.17)).attr("x2",x(.17)).attr("y1",y(6500)).attr("y2",y(-1500)).attr("stroke",o.vc).attr("stroke-width",1.6).attr("stroke-dasharray","10,6");
 const x2=Math.min(.38,6500/o.wtp);
 svg.append("line").attr("x1",x(.17)).attr("x2",x(x2)).attr("y1",y(.17*o.wtp)).attr("y2",y(x2*o.wtp)).attr("stroke","#555").attr("stroke-width",o.lw).attr("stroke-dasharray","6,3");
 svg.append("text").attr("transform",`translate(${o.lx},${o.ly}) rotate(${o.la})`).attr("text-anchor","middle").attr("dominant-baseline","central")
  .attr("font-family","'Liberation Sans',sans-serif").attr("font-size",20).attr("fill","#000").attr("stroke","#000").attr("stroke-width",.5)
  .attr("textLength",o.lw2).attr("lengthAdjust","spacingAndGlyphs").text(o.label);
 stretched(o.ytx,1222,"Incremental Cost",179,16,true);
 stretched(o.xtx,1547,"Incremental Effectiveness",203,21,false);
}
incPanel({tx:23,t1:"C. Incremental cost-effectiveness scatter",w1:738,t2:"plots -WTP=$8836/QALY  (1GDP/QALY)",w2:738,xr:[93.7,840],axisX:86,wtp:wtpC,label:"WTP = 8836.0",lx:402,ly:1237,la:-8,lw2:118,ytx:11,xtx:466,vc:"#8a8a8a",lw:1.6});
incPanel({tx:930,t1:"D. Incremental cost-effectiveness scatter",w1:737,t2:"plots -WTP=$26508/QALY  (3GDP/QALY)",w2:759,xr:[1012,1763],axisX:1004,wtp:wtpD,label:"WTP = 26508.0",lx:1143,ly:1021,la:-27,lw2:134,ytx:926,xtx:1387,vc:"#aaa",lw:1.2});
</script></body></html>
